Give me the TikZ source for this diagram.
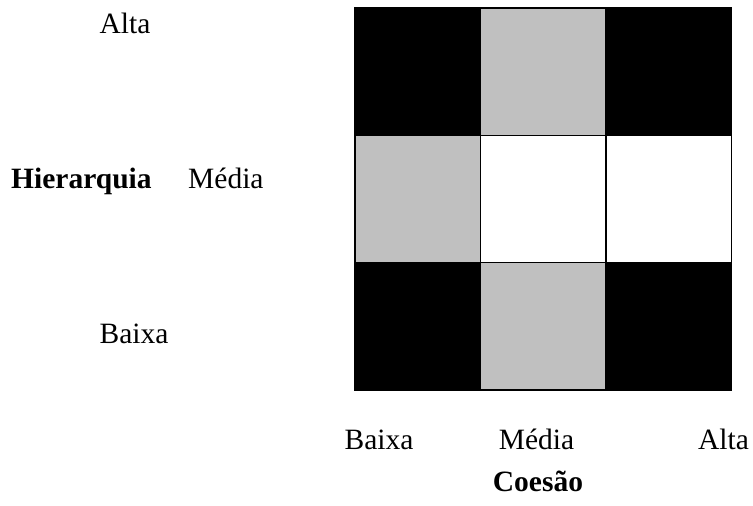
\documentclass[tikz,border=0pt]{standalone}
\usepackage{fontspec}
\setmainfont{Liberation Serif}
\usepackage{xcolor}
\usepackage{tikz}
\usetikzlibrary{positioning}
\definecolor{cellgray}{RGB}{192,192,192}

\begin{document}
\begin{tikzpicture}[
    x=1pt, y=-1pt,
    cell/.style={
        draw,
        line width=1.6pt,
        minimum width=125.5pt,
        minimum height=127.3pt,
        inner sep=0pt,
        outer sep=0pt
    },
    dark/.style={cell, fill=black},
    mid/.style={cell, fill=cellgray},
    light/.style={cell, fill=white},
    lbl/.style={font=\fontsize{29.5}{35}\selectfont, inner sep=0pt, anchor=base},
    title/.style={lbl, font=\fontsize{29.5}{35}\selectfont\bfseries},
    node distance=0pt
]
\useasboundingbox (0,0) rectangle (753,506);

% grid
\node[dark, anchor=north west] (c11) at (355,8) {};
\node[mid, right=of c11] (c12) {};
\node[dark, right=of c12] (c13) {};
\node[mid, below=of c11] (c21) {};
\node[light, right=of c21] (c22) {};
\node[light, right=of c22] (c23) {};
\node[dark, below=of c21] (c31) {};
\node[mid, right=of c31] (c32) {};
\node[dark, right=of c32] (c33) {};

% hierarquia axis
\node[lbl] (altay) at (125,33) {Alta};
\node[lbl, anchor=base west] (mediay) at (188,188) {Média};
\node[lbl] (baixay) at (134,343) {Baixa};
\node[title, anchor=base west] (hier) at (11,188) {Hierarquia};

% coesao axis
\node[lbl] (baixax) at (379,449) {Baixa};
\node[lbl] (mediax) at (536.5,449) {Média};
\node[lbl] (altax) at (723.5,449) {Alta};
\node[title] (coesao) at (538,491) {Coesão};
\end{tikzpicture}
\end{document}
